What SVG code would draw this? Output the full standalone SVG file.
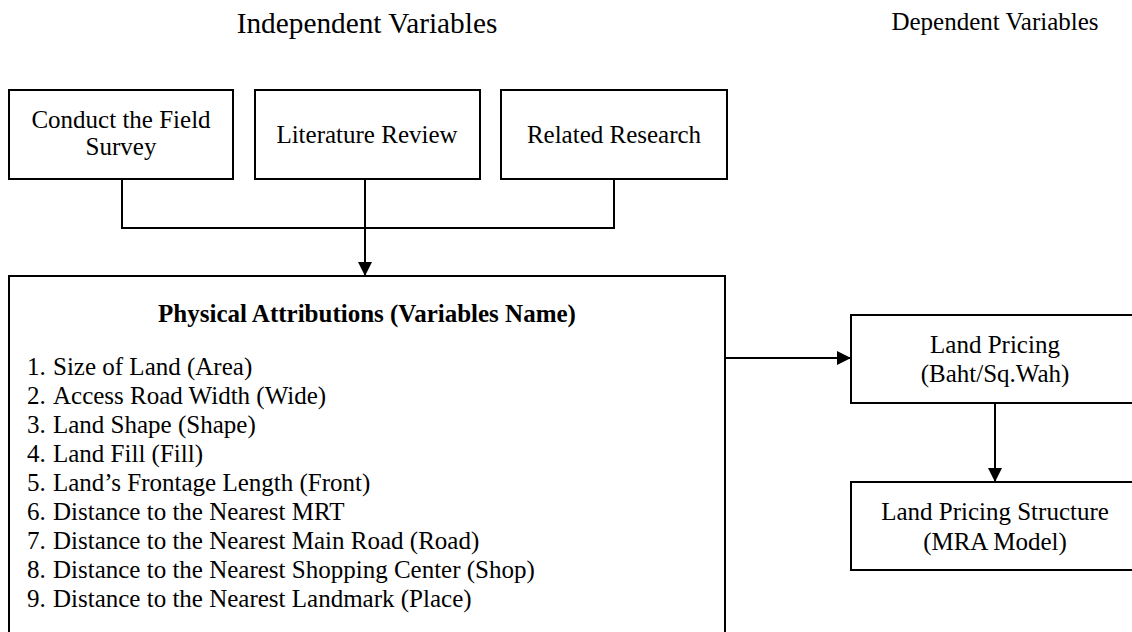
<svg xmlns="http://www.w3.org/2000/svg" width="1132" height="632" viewBox="0 0 1132 632">
<defs>
<marker id="ah" markerUnits="userSpaceOnUse" markerWidth="14" markerHeight="14" viewBox="0 0 14 14" refX="14" refY="7" orient="auto">
<path d="M0,0 L14,7 L0,14 Z" fill="#000"/>
</marker>
<style>
.box{fill:#fff;stroke:#000;stroke-width:2}
.t{font-family:"Liberation Serif","Times New Roman",serif;font-size:25px;fill:#000}
.c{text-anchor:middle}
.b{font-weight:bold}
.ln{fill:none;stroke:#000;stroke-width:2}
</style>
</defs>
<rect width="1132" height="632" fill="#fff"/>
<text class="t c" x="367" y="33" style="font-size:29.3px">Independent Variables</text>
<text class="t c" x="995" y="30" style="font-size:25px">Dependent Variables</text>

<g id="connectors">
<path class="ln" d="M122,179 V228 H614 V179"/>
<path class="ln" d="M365,179 V276" marker-end="url(#ah)"/>
<path class="ln" d="M725,358 H851" marker-end="url(#ah)"/>
<path class="ln" d="M995,403 V482" marker-end="url(#ah)"/>
</g>

<g id="field-survey">
<rect class="box" x="9" y="90" width="224" height="89"/>
<text class="t c" x="121" y="128">Conduct the Field</text>
<text class="t c" x="121" y="155">Survey</text>
</g>
<g id="literature-review">
<rect class="box" x="255" y="90" width="225" height="89"/>
<text class="t c" x="367" y="143">Literature Review</text>
</g>
<g id="related-research">
<rect class="box" x="501" y="90" width="226" height="89"/>
<text class="t c" x="614" y="143">Related Research</text>
</g>

<g id="physical-attributions">
<rect class="box" x="9" y="276" width="716" height="370"/>
<text class="t c b" x="367" y="322">Physical Attributions (Variables Name)</text>
<g class="t">
<text x="27" y="375">1.</text><text x="53" y="375">Size of Land (Area)</text>
<text x="27" y="404">2.</text><text x="53" y="404">Access Road Width (Wide)</text>
<text x="27" y="433">3.</text><text x="53" y="433">Land Shape (Shape)</text>
<text x="27" y="462">4.</text><text x="53" y="462">Land Fill (Fill)</text>
<text x="27" y="491">5.</text><text x="53" y="491">Land’s Frontage Length (Front)</text>
<text x="27" y="520">6.</text><text x="53" y="520">Distance to the Nearest MRT</text>
<text x="27" y="549">7.</text><text x="53" y="549">Distance to the Nearest Main Road (Road)</text>
<text x="27" y="578">8.</text><text x="53" y="578">Distance to the Nearest Shopping Center (Shop)</text>
<text x="27" y="607">9.</text><text x="53" y="607">Distance to the Nearest Landmark (Place)</text>
</g>
</g>

<g id="land-pricing">
<rect class="box" x="851" y="315" width="288" height="88"/>
<text class="t c" x="995" y="353">Land Pricing</text>
<text class="t c" x="995" y="382">(Baht/Sq.Wah)</text>
</g>
<g id="land-pricing-structure">
<rect class="box" x="851" y="482" width="288" height="88"/>
<text class="t c" x="995" y="520">Land Pricing Structure</text>
<text class="t c" x="995" y="550">(MRA Model)</text>
</g>
</svg>
